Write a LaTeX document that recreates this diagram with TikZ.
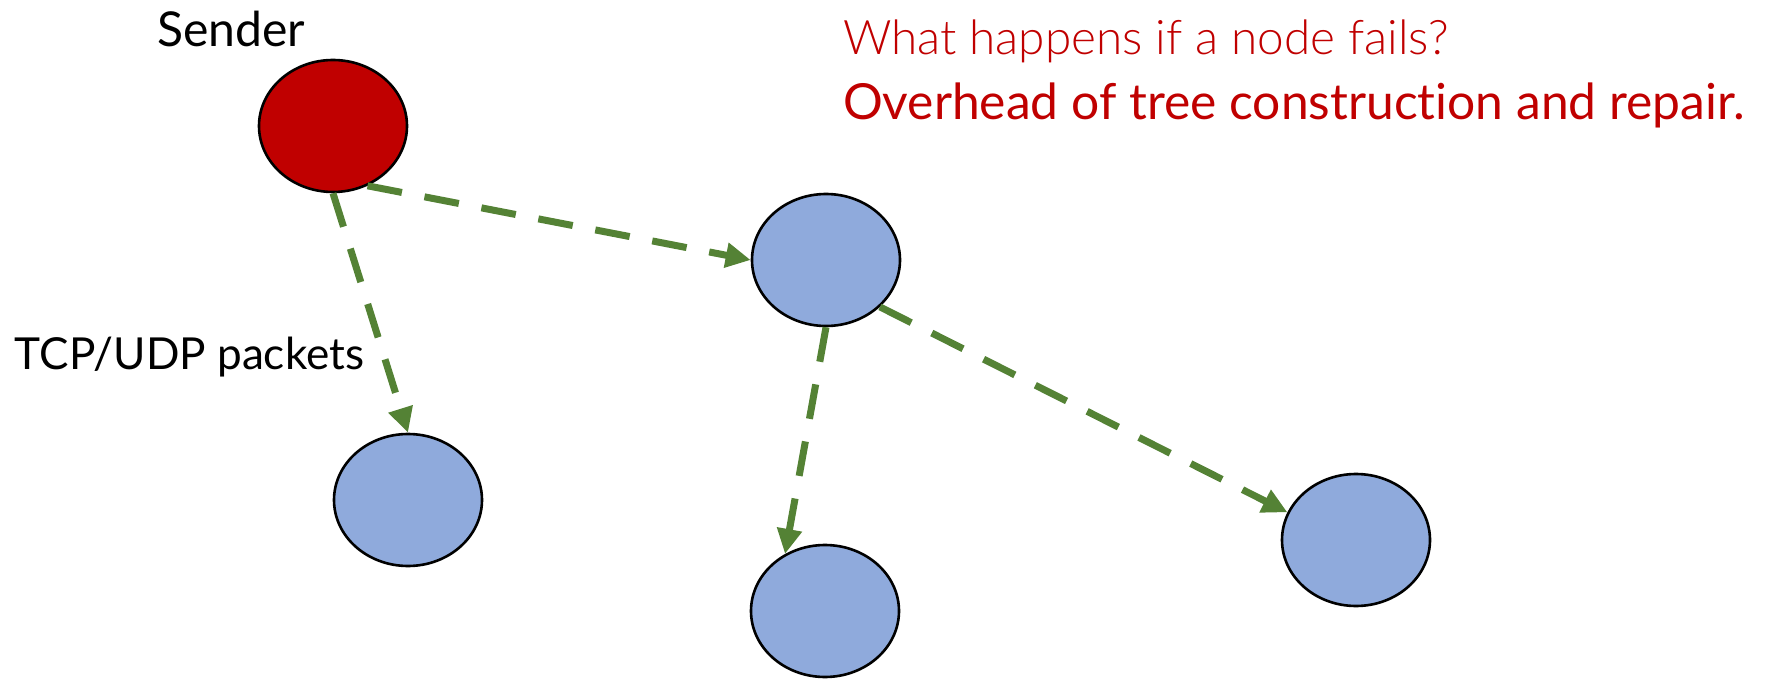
\documentclass[tikz,border=0pt]{standalone}
\usepackage{fontspec}
\setmainfont{Lato}[Ligatures=NoCommon]
\newfontfamily\lightfont{Lato Light}[Ligatures=NoCommon]
\usetikzlibrary{shapes.geometric,arrows.meta}
\definecolor{nodeblue}{HTML}{8FAADC}
\definecolor{senderred}{HTML}{C00000}
\definecolor{arrowgreen}{HTML}{548235}
\definecolor{textred}{HTML}{C00000}
\begin{document}
\begin{tikzpicture}[x=0.5pt,y=-0.5pt,
  host/.style={ellipse, draw=black, line width=1.3pt, minimum width=74pt, minimum height=66pt, inner sep=0pt},
  flow/.style={draw=arrowgreen, line width=3.5pt, dash pattern=on 17.5pt off 11.5pt, -{Triangle[length=12.5pt,width=12pt]}},
  label/.style={anchor=base west, inner sep=0pt, outer sep=0pt}
]
\useasboundingbox (0,0) rectangle (1768,679);
\node[host, fill=senderred] (sender) at (333,126) {};
\node[host, fill=nodeblue] (a) at (408,500) {};
\node[host, fill=nodeblue] (b) at (826,260) {};
\node[host, fill=nodeblue] (d) at (825,611) {};
\node[host, fill=nodeblue] (e) at (1356,540) {};
\node[label, font=\fontsize{24.4pt}{29pt}\selectfont] (sl) at (157,47) {\resizebox{74pt}{!}{Sender}};
\node[label, font=\fontsize{24.4pt}{29pt}\selectfont] (tl) at (15,370) {\resizebox{174.5pt}{!}{TCP/UDP packets}};
\node[label, text=textred, font=\lightfont\fontsize{25.8pt}{31pt}\selectfont] (q) at (843,55) {\resizebox{303pt}{!}{What happens if a node fails?}};
\node[label, text=textred, font=\fontsize{26.5pt}{32pt}\selectfont] (ans) at (843,120) {\resizebox{451pt}{!}{Overhead of tree construction and repair.}};
\draw[flow] (sender.south) -- (a.north);
\draw[flow] (sender.-60) -- (b.west);
\draw[flow] (b.south) -- (d.125);
\draw[flow] (b.-41) -- (e.158);
\end{tikzpicture}
\end{document}
